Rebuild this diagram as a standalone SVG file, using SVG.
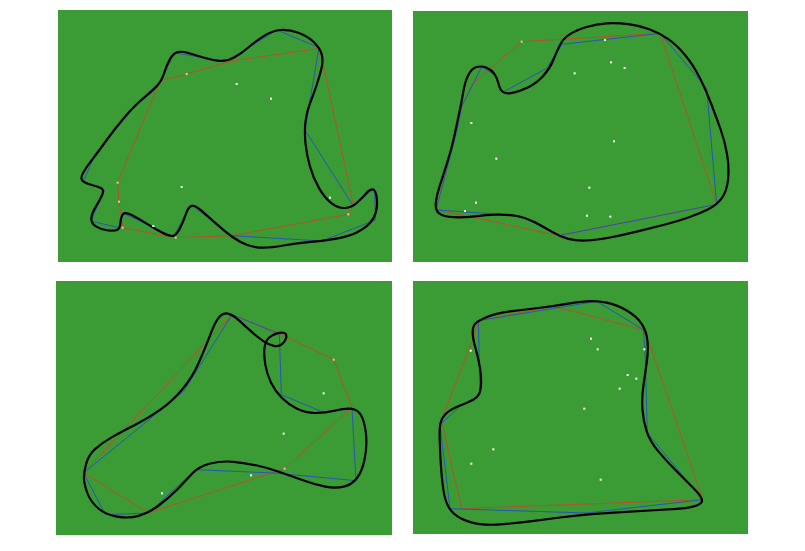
<svg xmlns="http://www.w3.org/2000/svg" width="805" height="551" viewBox="0 0 805 551">
<style>
.bg{fill:#3b9b35}
.curve{fill:none;stroke:#000;stroke-width:2.2;vector-effect:non-scaling-stroke;stroke-linejoin:round}
.red{fill:none;stroke:#b8502a;stroke-width:1;vector-effect:non-scaling-stroke}
.blue{fill:none;stroke:#2a55b8;stroke-width:1;vector-effect:non-scaling-stroke}
.dot{fill:#ffffff}
.mk{fill:#f0c4b8}
</style>
<rect width="805" height="551" fill="#ffffff"/>
<rect class="bg" x="58" y="10" width="334" height="252"/>
<rect class="bg" x="413" y="11" width="335" height="251"/>
<rect class="bg" x="56" y="281" width="336" height="254"/>
<rect class="bg" x="413" y="281" width="335" height="253"/>

<g id="panel1" transform="translate(55,5) scale(0.3333333)">
<polygon class="red" points="315,228 188,533 192,590 203,668 362,698 530,692 880,628 895,600 805,180 795,130 530,168 395,207"/>
<polygon class="blue" points="318,228 358,143 512,170 665,75 792,128 750,375 895,603 958,550 962,645 800,708 530,692 408,600 355,695 205,625 190,668 108,648 148,555 85,530 120,450 250,290"/>
<path class="curve" d="M305,244 Q320,228 327.5,204 Q335,180 345,162.5 Q355,145 367.5,141.5 Q380,138 400,144 Q420,150 445,157.5 Q470,165 492.5,167.5 Q515,170 537.5,157.5 Q560,145 580,127.5 Q600,110 625,94 Q650,78 675,75 Q700,72 730,83.5 Q760,95 777.5,112.5 Q795,130 800,147.5 Q805,165 800,187.5 Q795,210 785,240 Q775,270 765,295 Q755,320 751.5,350 Q748,380 751.5,415 Q755,450 765,485 Q775,520 792.5,550 Q810,580 830,595 Q850,610 870,609 Q890,608 905,594 Q920,580 932.5,566 Q945,552 953.5,553.5 Q962,555 965,577.5 Q968,600 963,620 Q958,640 944,655 Q930,670 905,682.5 Q880,695 840,701.5 Q800,708 760,711.5 Q720,715 685,721.5 Q650,728 625,728 Q600,728 577.5,720 Q555,712 532.5,696 Q510,680 485,657.5 Q460,635 440,617.5 Q420,600 410,602.5 Q400,605 392.5,627.5 Q385,650 375,670 Q365,690 355,692.5 Q345,695 322.5,683.5 Q300,672 275,656 Q250,640 230,630 Q210,620 204,627.5 Q198,635 196.5,652.5 Q195,670 187.5,674 Q180,678 160,676.5 Q140,675 124,665 Q108,655 109,640 Q110,625 122.5,605 Q135,585 141.5,570 Q148,555 139,550 Q130,545 110,540 Q90,535 82.5,527.5 Q75,520 85,502.5 Q95,485 112.5,462.5 Q130,440 155,405 Q180,370 210,335 Q240,300 265,280 Q290,260 305,244 Z"/>
<g class="mk"><rect x="185" y="530" width="6" height="6"/><rect x="189" y="587" width="6" height="6"/><rect x="200" y="665" width="6" height="6"/><rect x="359" y="695" width="6" height="6"/><rect x="877" y="625" width="6" height="6"/><rect x="392" y="204" width="6" height="6"/></g>
<g class="dot"><rect x="542" y="234" width="6" height="6"/><rect x="645" y="278" width="6" height="6"/><rect x="377" y="543" width="6" height="6"/><rect x="292" y="660" width="6" height="6"/><rect x="822" y="575" width="6" height="6"/></g>
</g>

<g id="panel2" transform="translate(410,5) scale(0.3333333)">
<polygon class="red" points="335,110 750,85 920,598 445,692 180,635 78,615 155,305 190,235"/>
<polygon class="blue" points="215,185 255,210 278,262 410,190 455,118 750,85 890,250 920,598 445,692 330,632 78,615 140,380 155,305"/>
<path class="curve" d="M200,186 Q215,182 230,188.5 Q245,195 253.5,207.5 Q262,220 266,237.5 Q270,255 280,261.5 Q290,268 310,263 Q330,258 355,246.5 Q380,235 400,212.5 Q420,190 430,165 Q440,140 450,120 Q460,100 480,87.5 Q500,75 530,66 Q560,57 590,55 Q620,53 655,57.5 Q690,62 720,73.5 Q750,85 775,102.5 Q800,120 825,150 Q850,180 870,220 Q890,260 905,300 Q920,340 932.5,375 Q945,410 951.5,450 Q958,490 954,525 Q950,560 935,580 Q920,600 895,612.5 Q870,625 835,637.5 Q800,650 760,660 Q720,670 680,680 Q640,690 600,697.5 Q560,705 530,706.5 Q500,708 475,701.5 Q450,695 425,680 Q400,665 375,651.5 Q350,638 320,633 Q290,628 260,629 Q230,630 195,634 Q160,638 130,636.5 Q100,635 87.5,625 Q75,615 77.5,592.5 Q80,570 90,540 Q100,510 112.5,470 Q125,430 132.5,395 Q140,360 147.5,325 Q155,290 160,260 Q165,230 175,210 Q185,190 200,186 Z"/>
<g class="mk"><rect x="332" y="107" width="6" height="6"/></g>
<g class="dot"><rect x="582" y="102" width="6" height="6"/><rect x="600" y="169" width="6" height="6"/><rect x="641" y="186" width="6" height="6"/><rect x="491" y="202" width="6" height="6"/><rect x="181" y="351" width="6" height="6"/><rect x="609" y="406" width="6" height="6"/><rect x="256" y="458" width="6" height="6"/><rect x="535" y="545" width="6" height="6"/><rect x="195" y="590" width="6" height="6"/><rect x="162" y="615" width="6" height="6"/><rect x="528" y="629" width="6" height="6"/><rect x="598" y="632" width="6" height="6"/></g>
</g>

<g id="panel3" transform="translate(52,278) scale(0.3333333)">
<polygon class="red" points="95,585 540,110 680,165 845,245 900,388 698,572 290,705"/>
<polygon class="blue" points="95,585 395,340 540,110 682,168 688,350 820,405 900,390 912,608 665,585 430,575 290,705 160,710"/>
<path class="curve" d="M96,602.5 Q95,585 102.5,557.5 Q110,530 130,512.5 Q150,495 180,477.5 Q210,460 250,440 Q290,420 325,395 Q360,370 390,335 Q420,300 440,255 Q460,210 475,170 Q490,130 502.5,116.5 Q515,103 530,107.5 Q545,112 562.5,128.5 Q580,145 600,162.5 Q620,180 635,190 Q650,200 665,203.5 Q680,207 690,198.5 Q700,190 702.5,179 Q705,168 697.5,165 Q690,162 675,166 Q660,170 650,180 Q640,190 637.5,210 Q635,230 640,260 Q645,290 657.5,315 Q670,340 690,360 Q710,380 735,392.5 Q760,405 790,405 Q820,405 850,397.5 Q880,390 900,392.5 Q920,395 930,417.5 Q940,440 942.5,475 Q945,510 937.5,545 Q930,580 915,600 Q900,620 875,626 Q850,632 820,626 Q790,620 755,607.5 Q720,595 685,582.5 Q650,570 615,562.5 Q580,555 545,551.5 Q510,548 475,556.5 Q440,565 420,587.5 Q400,610 375,635 Q350,660 320,682.5 Q290,705 260,713.5 Q230,722 195,716 Q160,710 137.5,690 Q115,670 106,645 Q97,620 96,602.5 Z"/>
<g class="mk"><rect x="842" y="242" width="6" height="6"/><rect x="695" y="569" width="6" height="6"/></g>
<g class="dot"><rect x="812" y="343" width="6" height="6"/><rect x="692" y="464" width="6" height="6"/><rect x="594" y="589" width="6" height="6"/><rect x="327" y="643" width="6" height="6"/></g>
</g>

<g id="panel4" transform="translate(410,278) scale(0.3333333)">
<polygon class="red" points="205,128 430,85 700,155 720,200 878,665 155,692 95,430 100,410 190,180"/>
<polygon class="blue" points="205,128 560,70 700,155 705,215 712,465 878,665 530,705 120,692 90,440 150,385 210,350"/>
<path class="curve" d="M196.5,136.5 Q205,128 232.5,116.5 Q260,105 300,100 Q340,95 385,90 Q430,85 465,78.5 Q500,72 530,70 Q560,68 590,74 Q620,80 650,97.5 Q680,115 695,137.5 Q710,160 712.5,190 Q715,220 710,255 Q705,290 700,325 Q695,360 697.5,395 Q700,430 710,460 Q720,490 745,520 Q770,550 800,580 Q830,610 850,630 Q870,650 875,662.5 Q880,675 860,682.5 Q840,690 800,692.5 Q760,695 720,697.5 Q680,700 635,702.5 Q590,705 545,708.5 Q500,712 450,718.5 Q400,725 360,730 Q320,735 280,738.5 Q240,742 210,738.5 Q180,735 155,722.5 Q130,710 117.5,690 Q105,670 100,635 Q95,600 92.5,560 Q90,520 89,485 Q88,450 91.5,435 Q95,420 107.5,407.5 Q120,395 145,385 Q170,375 190,365 Q210,355 212.5,327.5 Q215,300 210,270 Q205,240 196.5,210 Q188,180 188,162.5 Q188,145 196.5,136.5 Z"/>
<g class="dot"><rect x="540" y="179" width="6" height="6"/><rect x="560" y="211" width="6" height="6"/><rect x="700" y="211" width="6" height="6"/><rect x="650" y="288" width="6" height="6"/><rect x="676" y="299" width="6" height="6"/><rect x="626" y="329" width="6" height="6"/><rect x="520" y="389" width="6" height="6"/><rect x="247" y="511" width="6" height="6"/><rect x="181" y="554" width="6" height="6"/><rect x="569" y="602" width="6" height="6"/><rect x="179" y="215" width="6" height="6"/></g>
</g>
</svg>
